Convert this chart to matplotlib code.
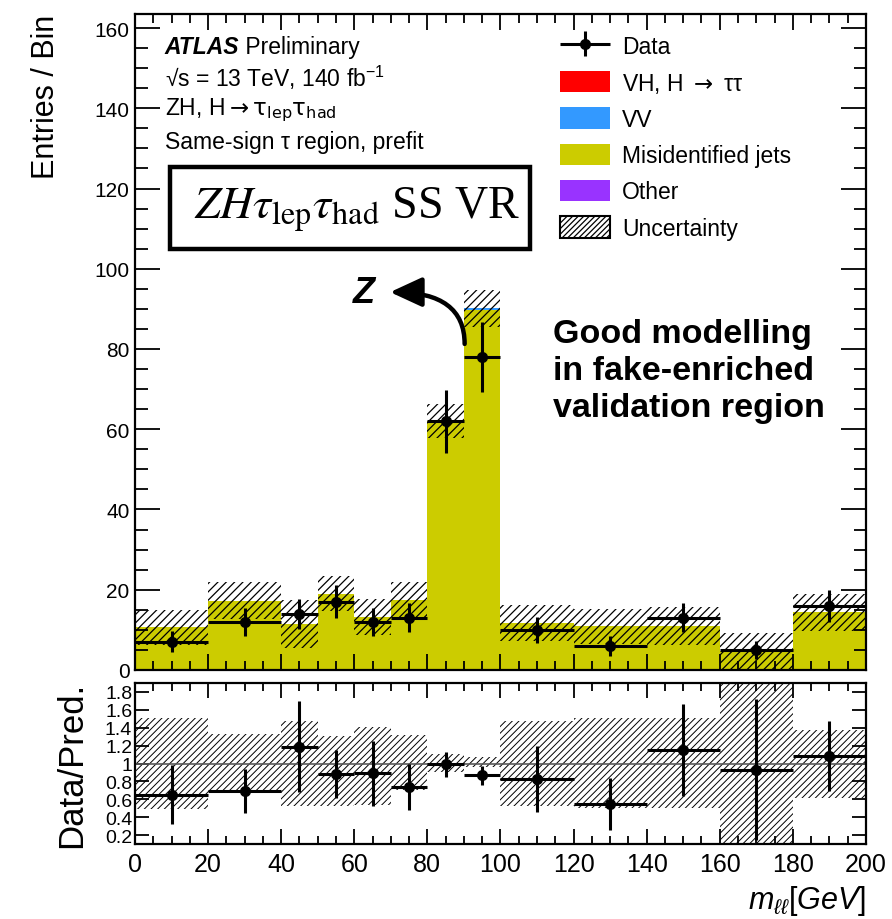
import matplotlib
matplotlib.use("Agg")
import matplotlib.pyplot as plt
import numpy as np
from matplotlib.patches import Patch, Rectangle, FancyArrowPatch
from matplotlib.ticker import MultipleLocator, FormatStrFormatter
from matplotlib.container import ErrorbarContainer
from matplotlib.legend_handler import HandlerErrorbar

plt.rcParams['font.family'] = ['Liberation Sans', 'DejaVu Sans']
plt.rcParams['mathtext.fontset'] = 'custom'
plt.rcParams['mathtext.rm'] = 'Liberation Sans'
plt.rcParams['mathtext.it'] = 'Liberation Sans:italic'
plt.rcParams['mathtext.bf'] = 'Liberation Sans:bold'
plt.rcParams['hatch.linewidth'] = 0.9

# binning in m_ll [GeV]
edges = [0, 20, 40, 50, 60, 70, 80, 90, 100, 120, 140, 160, 180, 200]

# observed events and their errors
data = [7, 12, 14, 17, 12, 13, 62, 78, 10, 6, 13, 5, 16]
data_err = [2.6, 3.5, 3.7, 4.1, 3.5, 3.6, 7.9, 8.8, 3.2, 2.4, 3.6, 2.2, 4.0]

# prefit background stack
other = [0, 0, 0, 0, 0, 0, 0, 0, 0, 0, 0, 0, 0]
fakes = [10.6, 17.2, 11.4, 19.0, 13.2, 17.4, 62.0, 89.8, 11.8, 10.9, 10.9, 4.7, 14.4]
vv = [0, 0, 0, 0, 0, 0, 0, 0.3, 0, 0, 0, 0, 0]
vh = [0, 0, 0, 0, 0, 0, 0, 0, 0, 0, 0, 0, 0]
bkg_unc = [4.3, 4.6, 6.0, 4.4, 4.6, 4.4, 4.3, 4.5, 4.5, 4.4, 4.7, 4.6, 4.6]

# ratio panel
ratio_vals = [0.65, 0.69, 1.19, 0.88, 0.89, 0.74, 0.99, 0.87, 0.83, 0.55, 1.15, 0.93, 1.08]
ratio_err = [0.33, 0.245, 0.51, 0.27, 0.36, 0.26, 0.14, 0.105, 0.37, 0.29, 0.51, 0.79, 0.39]
ratio_band_hi = [1.51, 1.33, 1.48, 1.31, 1.41, 1.32, 1.11, 1.07, 1.48, 1.51, 1.51, 1.95, 1.38]
ratio_band_lo = [0.49, 0.68, 0.52, 0.53, 0.54, 0.70, 0.91, 0.96, 0.53, 0.50, 0.50, 0.08, 0.62]

c_vh = '#ff0000'
c_vv = '#3399ff'
c_fake = '#cccc00'
c_other = '#9933ff'

edges = np.array(edges, dtype=float)
lo_edge = edges[:-1]
width = np.diff(edges)
centers = lo_edge + width / 2

fig = plt.figure(figsize=(8.92, 9.2), dpi=100)
ax = fig.add_axes([0.1513, 0.2707, 0.8195, 0.7130])
rax = fig.add_axes([0.1513, 0.0815, 0.8195, 0.1750], sharex=ax)

# stacked histogram
bottom = np.zeros(len(width))
for vals, col in [(other, c_other), (fakes, c_fake), (vv, c_vv), (vh, c_vh)]:
    vals = np.array(vals, dtype=float)
    ax.bar(lo_edge, vals, width=width, bottom=bottom, align='edge', color=col, lw=0)
    bottom = bottom + vals
stack = bottom

unc = np.array(bkg_unc)
ax.bar(lo_edge, 2 * unc, width=width, bottom=stack - unc, align='edge',
       fill=False, hatch='////', edgecolor='black', lw=0)

eb = ax.errorbar(centers, data, xerr=width / 2, yerr=data_err, fmt='o', color='black',
                 ms=7, elinewidth=2.2, capsize=0)

ax.set_xlim(0, 200)
ax.set_ylim(0, 163.5)
ax.yaxis.set_major_locator(MultipleLocator(20))
ax.yaxis.set_minor_locator(MultipleLocator(5))
ax.xaxis.set_major_locator(MultipleLocator(20))
ax.xaxis.set_minor_locator(MultipleLocator(5))
ax.tick_params(which='both', direction='in', top=True, right=True, width=1.3,
               labelsize=15, labelbottom=False)
ax.tick_params(axis='y', which='major', length=18, pad=4)
ax.tick_params(axis='y', which='minor', length=9)
ax.tick_params(axis='x', which='major', length=11.5)
ax.tick_params(axis='x', which='minor', length=6.5)
for s in ax.spines.values():
    s.set_linewidth(1.6)
ax.set_ylabel('Entries / Bin', fontsize=22, loc='top', labelpad=24)

# labels
fs = 16.5
t_atlas = ax.text(0.041, 0.951, 'ATLAS', transform=ax.transAxes, fontsize=fs,
                  fontweight='bold', fontstyle='italic', va='center', ha='left')
ax.annotate(' Preliminary', xy=(1, 0.5), xycoords=t_atlas, fontsize=fs,
            va='center', ha='left')
ax.text(0.041, 0.904, '√s = 13 TeV, 140 fb$^{-1}$', transform=ax.transAxes,
        fontsize=fs, va='center', ha='left')
ax.text(0.041, 0.854, r'ZH, H$\rightarrow\mathrm{\tau}_{\rm lep}\mathrm{\tau}_{\rm had}$',
        transform=ax.transAxes, fontsize=fs, va='center', ha='left',
        math_fontfamily='dejavusans')
ax.text(0.041, 0.805, 'Same-sign τ region, prefit', transform=ax.transAxes,
        fontsize=fs, va='center', ha='left')

ax.add_patch(Rectangle((0.0479, 0.642), 0.492, 0.125, transform=ax.transAxes,
                       fill=False, lw=3.2, edgecolor='black', zorder=5))
ax.text(0.304, 0.704, r'$ZH\tau_{\rm lep}\tau_{\rm had}$ SS VR', transform=ax.transAxes,
        fontsize=33, ha='center', va='center', family='Liberation Serif',
        math_fontfamily='stix')

ax.text(0.572, 0.536, 'Good modelling\nin fake-enriched\nvalidation region',
        transform=ax.transAxes, fontsize=24.5, fontweight='bold', va='top', ha='left',
        linespacing=1.24)

ax.text(0.313, 0.575, 'Z', transform=ax.transAxes, fontsize=26, fontweight='bold',
        fontstyle='italic', ha='center', va='center')
ax.add_patch(FancyArrowPatch((0.451, 0.497), (0.349, 0.576), transform=ax.transAxes,
                             connectionstyle='angle3,angleA=90,angleB=0',
                             arrowstyle='-|>,head_length=1.3,head_width=0.6',
                             mutation_scale=15, lw=3.2, color='black',
                             shrinkA=0, shrinkB=0))

handles = [eb,
           Patch(facecolor=c_vh, edgecolor='none'),
           Patch(facecolor=c_vv, edgecolor='none'),
           Patch(facecolor=c_fake, edgecolor='none'),
           Patch(facecolor=c_other, edgecolor='none'),
           Patch(facecolor='white', edgecolor='black', hatch='//////', lw=1.5)]
labels = ['Data', r'VH, H $\rightarrow$ ττ', 'VV', 'Misidentified jets', 'Other',
          'Uncertainty']
leg = ax.legend(handles, labels, loc='upper left', bbox_to_anchor=(0.5814, 0.969),
                frameon=False, fontsize=fs, handlelength=2.2, handleheight=1.05,
                labelspacing=0.56, handletextpad=0.52, borderpad=0, borderaxespad=0,
                handler_map={ErrorbarContainer: HandlerErrorbar(xerr_size=1.1,
                                                                yerr_size=0.55)})
leg.get_texts()[1].set_math_fontfamily('dejavusans')

# ratio panel
rlo = np.array(ratio_band_lo)
rhi = np.array(ratio_band_hi)
plt.rcParams['hatch.linewidth'] = 0.7
rax.bar(lo_edge, rhi - rlo, width=width, bottom=rlo, align='edge',
        fill=False, hatch='/////', edgecolor='black', lw=0)
rax.axhline(1, color='0.35', lw=1.2)
rax.errorbar(centers, ratio_vals, xerr=width / 2, yerr=ratio_err, fmt='o', color='black',
             ms=7, elinewidth=2.2, capsize=0)
rax.set_ylim(0.1, 1.9)
rax.set_yticks([0.2, 0.4, 0.6, 0.8, 1.0, 1.2, 1.4, 1.6, 1.8])
rax.yaxis.set_major_formatter(FormatStrFormatter('%g'))
rax.xaxis.set_minor_locator(MultipleLocator(5))
rax.tick_params(which='both', direction='in', top=True, right=True, width=1.3)
rax.tick_params(axis='y', which='major', length=10, labelsize=14, pad=2)
rax.tick_params(axis='x', which='major', length=11, labelsize=18, pad=6)
rax.tick_params(axis='x', which='minor', length=6)
for s in rax.spines.values():
    s.set_linewidth(1.6)
rax.set_ylabel('Data/Pred.', fontsize=25, labelpad=12)
rax.set_xlabel(r'$m_{\ell\ell}[GeV]$', fontsize=22, loc='right', labelpad=5)

fig.savefig('out.png', dpi=100)
